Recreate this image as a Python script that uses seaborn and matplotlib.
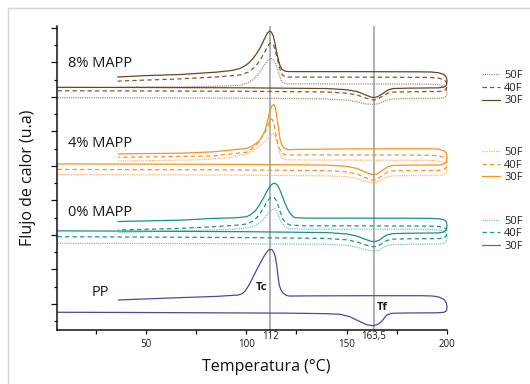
import matplotlib
matplotlib.use("Agg")
import seaborn as sns
from matplotlib import pyplot as plt
from matplotlib.patches import Rectangle
from matplotlib.ticker import FixedLocator, MultipleLocator, NullFormatter

# DSC loops: (temperature, heat flow)
# heating branch left->200, turn at 200, cooling branch 200->36
pp_pts = [(5.9, 0.76), (40, 0.755), (80, 0.745), (120, 0.735), (140, 0.72), (147, 0.70), (151.6, 0.63),
          (156.6, 0.49), (160, 0.40), (163.2, 0.37), (165.5, 0.41), (167.4, 0.49), (169.9, 0.68), (172.4, 0.73),
          (180, 0.74), (195, 0.745), (198.5, 0.76), (199.7, 0.80), (200, 0.92), (199.7, 1.03), (198.5, 1.13),
          (196, 1.20), (193, 1.23), (188, 1.24), (160, 1.24), (130, 1.235), (122, 1.23), (120.9, 1.235),
          (119.5, 1.265), (118.4, 1.31), (117.3, 1.40), (116.4, 1.55), (115.8, 1.80), (115.2, 2.10),
          (114.5, 2.36), (113.7, 2.50), (112.8, 2.57), (111.8, 2.585), (110.8, 2.55), (109.3, 2.43), (108, 2.30),
          (106.8, 2.17), (105, 1.97), (103.4, 1.79), (101.8, 1.60), (100.5, 1.47), (99.3, 1.37), (98, 1.30),
          (96, 1.26), (85, 1.22), (60, 1.17), (36.2, 1.116)]

m0_30 = [(5.9, 3.12), (50, 3.11), (100, 3.095), (140, 3.07), (150, 3.03), (155, 2.97), (159, 2.88), (162, 2.82),
         (164, 2.81), (166, 2.84), (168, 2.93), (170, 3.0), (173, 3.04), (180, 3.05), (196, 3.06), (198.5, 3.09),
         (199.7, 3.15), (200, 3.27), (199.7, 3.38), (198.5, 3.44), (196, 3.47), (192, 3.48), (185, 3.485),
         (150, 3.49), (130, 3.49), (124.2, 3.50), (123, 3.55), (121.7, 3.64), (120.4, 3.77), (119.2, 3.93),
         (118, 4.12), (116.7, 4.31), (115.5, 4.44), (114.3, 4.50), (113, 4.48), (111.8, 4.41), (110.2, 4.26),
         (108.4, 4.06), (106.3, 3.85), (104.3, 3.69), (102.2, 3.59), (100.1, 3.53), (95, 3.50), (83.5, 3.48),
         (66.9, 3.43), (36, 3.39)]
m0_40 = [(5.9, 2.95), (50, 2.94), (100, 2.925), (140, 2.90), (150, 2.86), (155, 2.80), (159, 2.72), (162, 2.67),
         (163.8, 2.66), (166, 2.69), (168, 2.77), (170, 2.84), (173, 2.88), (180, 2.89), (196, 2.895),
         (198.5, 2.92), (199.7, 2.98), (200, 3.08), (199.7, 3.17), (198.5, 3.22), (196, 3.245), (192, 3.255),
         (185, 3.26), (150, 3.265), (130, 3.265), (121.7, 3.29), (120, 3.34), (118.4, 3.44), (117.2, 3.62),
         (115.9, 3.84), (114.8, 4.01), (113.7, 4.10), (112.4, 4.09), (110.9, 4.01), (109.3, 3.86), (107.6, 3.69),
         (105.5, 3.52), (103.4, 3.40), (100, 3.32), (96.8, 3.29), (83.5, 3.24), (66.9, 3.19), (36, 3.145)]
m0_50 = [(5.9, 2.76), (50, 2.755), (100, 2.745), (140, 2.73), (150, 2.70), (155, 2.65), (159, 2.58), (162, 2.545),
         (163.8, 2.54), (166, 2.56), (168, 2.63), (170, 2.69), (173, 2.72), (180, 2.73), (196, 2.735),
         (198.5, 2.76), (199.7, 2.82), (200, 2.93), (199.7, 3.04), (198.5, 3.11), (196, 3.145), (192, 3.16),
         (185, 3.165), (150, 3.17), (130, 3.17), (121, 3.18), (119.2, 3.245), (118, 3.33), (116.7, 3.45),
         (115.5, 3.65), (114.3, 3.76), (113, 3.74), (111.8, 3.68), (110, 3.56), (108.4, 3.44), (106, 3.32),
         (103.4, 3.245), (98, 3.19), (91.8, 3.16), (60, 3.11), (36, 3.07)]

m4_30 = [(5.9, 5.06), (50, 5.055), (100, 5.045), (140, 5.025), (150, 4.99), (155, 4.93), (159, 4.83), (162, 4.76),
         (163.5, 4.745), (165.5, 4.78), (168, 4.88), (170.5, 4.98), (173, 5.015), (180, 5.025), (196, 5.03),
         (198.5, 5.06), (199.7, 5.12), (200, 5.25), (199.7, 5.37), (198.5, 5.44), (196, 5.485), (192, 5.50),
         (185, 5.50), (150, 5.495), (125, 5.48), (121, 5.47), (119.2, 5.51), (118, 5.58), (117.3, 5.67),
         (116.7, 5.82), (116, 6.10), (115.1, 6.48), (114.4, 6.70), (113.7, 6.78), (113, 6.76), (112.4, 6.70),
         (111.4, 6.52), (110.3, 6.24), (109.3, 6.02), (107.8, 5.84), (105.9, 5.70), (103, 5.58), (100.1, 5.51),
         (83.5, 5.41), (66.9, 5.37), (36, 5.35)]
m4_40 = [(5.9, 4.90), (50, 4.895), (100, 4.885), (140, 4.865), (150, 4.83), (155, 4.77), (159, 4.67), (162, 4.605),
         (163.5, 4.595), (165.5, 4.63), (168, 4.73), (170.5, 4.83), (173, 4.86), (180, 4.865), (196, 4.87),
         (198.5, 4.90), (199.7, 4.96), (200, 5.07), (199.7, 5.18), (198.5, 5.25), (196, 5.29), (192, 5.31),
         (185, 5.315), (150, 5.32), (125, 5.32), (120, 5.32), (118.4, 5.345), (117.3, 5.42), (116.5, 5.52),
         (115.7, 5.66), (115.1, 5.80), (114.4, 6.02), (113.7, 6.24), (113, 6.34), (112.3, 6.36), (111.5, 6.30),
         (110.6, 6.14), (109.6, 6.00), (108.6, 5.92), (107.5, 5.82), (106.3, 5.71), (104, 5.55), (100.1, 5.40),
         (83.5, 5.29), (60, 5.27), (36, 5.25)]
m4_50 = [(5.9, 4.75), (50, 4.745), (100, 4.735), (140, 4.715), (150, 4.69), (155, 4.64), (159, 4.56), (162, 4.525),
         (163.5, 4.52), (165.5, 4.54), (168, 4.62), (170.5, 4.69), (173, 4.715), (180, 4.72), (196, 4.725),
         (198.5, 4.75), (199.7, 4.80), (200, 4.91), (199.7, 5.02), (198.5, 5.10), (196, 5.14), (192, 5.16),
         (185, 5.165), (150, 5.17), (125, 5.175), (120, 5.18), (118.5, 5.20), (117.5, 5.25), (116.7, 5.36),
         (115.9, 5.52), (115.2, 5.70), (114.5, 5.86), (113.7, 5.94), (112.8, 5.93), (111.8, 5.86), (110.5, 5.78),
         (108.7, 5.68), (106.8, 5.58), (103, 5.44), (100.1, 5.36), (91.8, 5.24), (76.9, 5.18), (36, 5.14)]

m8_30 = [(5.9, 7.28), (50, 7.275), (100, 7.265), (140, 7.245), (150, 7.21), (155, 7.16), (159, 7.07), (162, 7.0),
         (163.5, 6.98), (165.5, 7.01), (168, 7.10), (170.5, 7.20), (173, 7.245), (180, 7.255), (196, 7.265),
         (198.5, 7.29), (199.7, 7.34), (200, 7.45), (199.7, 7.57), (198.5, 7.65), (196, 7.70), (192, 7.725),
         (185, 7.73), (150, 7.735), (125, 7.735), (121, 7.737), (119.2, 7.75), (117.8, 7.80), (116.7, 7.92),
         (115.9, 8.10), (115.1, 8.30), (114.3, 8.55), (113.5, 8.76), (112.5, 8.88), (111.6, 8.91), (110.6, 8.86),
         (109.6, 8.75), (108.5, 8.62), (107.2, 8.46), (105.5, 8.29), (103.4, 8.12), (101.5, 8.00), (99.5, 7.91),
         (97, 7.83), (93, 7.77), (85, 7.72), (66.9, 7.65), (50, 7.62), (35.9, 7.58)]
m8_40 = [(5.9, 7.18), (50, 7.175), (100, 7.165), (140, 7.145), (150, 7.11), (155, 7.06), (159, 6.98), (162, 6.925),
         (163.5, 6.91), (165.5, 6.94), (168, 7.03), (170.5, 7.11), (173, 7.14), (180, 7.15), (196, 7.16),
         (198.5, 7.18), (199.7, 7.23), (200, 7.33), (199.7, 7.43), (198.5, 7.50), (196, 7.545), (192, 7.565),
         (185, 7.57), (150, 7.575), (125, 7.575), (119.5, 7.58), (118.3, 7.62), (117.3, 7.71), (116.3, 7.90),
         (115.4, 8.12), (114.5, 8.33), (113.6, 8.50), (112.7, 8.57), (111.9, 8.56), (111, 8.50), (109.5, 8.34),
         (107, 8.08), (104.5, 7.88), (101, 7.72), (97, 7.64), (85, 7.58), (65, 7.52), (50, 7.49), (35.9, 7.46)]
m8_50 = [(5.9, 6.98), (50, 6.975), (100, 6.965), (140, 6.945), (150, 6.91), (155, 6.86), (159, 6.80), (162, 6.79),
         (163.5, 6.785), (165.5, 6.80), (168, 6.86), (170.5, 6.92), (173, 6.945), (180, 6.955), (196, 6.96),
         (198.5, 6.98), (199.7, 7.03), (200, 7.12), (199.7, 7.22), (198.5, 7.30), (196, 7.35), (192, 7.37),
         (185, 7.375), (150, 7.38), (125, 7.38), (120, 7.38), (118.6, 7.40), (117.5, 7.47), (116.5, 7.62),
         (115.6, 7.80), (114.6, 7.96), (113.5, 8.07), (112.5, 8.115), (111.6, 8.10), (110.5, 8.04), (109, 7.92),
         (106.5, 7.70), (104, 7.53), (100.5, 7.40), (97, 7.34), (85, 7.31), (65, 7.29), (50, 7.285), (36, 7.28)]

groups = ["8% MAPP", "4% MAPP", "0% MAPP"]
group_curves = [[m8_50, m8_40, m8_30], [m4_50, m4_40, m4_30], [m0_50, m0_40, m0_30]]
group_colors = [["#a98f76", "#7b5a3a", "#6b4423"],
                ["#fbb56e", "#f7922a", "#f7931e"],
                ["#7dc4bf", "#23928c", "#18918b"]]
series_labels = ["50F", "40F", "30F"]
series_styles = [(0, (1, 0.8)), (0, (3.5, 2.5)), "-"]
group_label_y = [7.96, 5.64, 3.65]
legend_y = [0.770, 0.570, 0.391]
pp_color = "#4b48a6"
tc, tf = 112, 163.5

sns.set_style("ticks")
plt.rcParams["font.family"] = ["Open Sans", "DejaVu Sans"]

fig = plt.figure(figsize=(5.3, 3.84), dpi=100)
ax = fig.add_axes([0.1081, 0.1406, 0.7353, 0.7904])

ax.axvline(tc, color="#a3a3a3", lw=1.2, zorder=1)
ax.axvline(tf, color="#a3a3a3", lw=1.2, zorder=1)

sns.lineplot(x=[p[0] for p in pp_pts], y=[p[1] for p in pp_pts], sort=False, estimator=None,
             color=pp_color, lw=0.9, clip_on=False, ax=ax)

legends = []
for g, curves in enumerate(group_curves):
    handles = []
    for s, pts in enumerate(curves):
        sns.lineplot(x=[p[0] for p in pts], y=[p[1] for p in pts], sort=False, estimator=None,
                     color=group_colors[g][s], linestyle=series_styles[s], lw=0.9,
                     clip_on=False, ax=ax)
        handles.append(ax.lines[-1])
    leg = ax.legend(handles, series_labels, loc="center left", bbox_to_anchor=(0.9094, legend_y[g]),
                    bbox_transform=fig.transFigure, frameon=False, fontsize=8,
                    handlelength=1.6, handletextpad=0.4, labelspacing=0.15,
                    borderpad=0, borderaxespad=0)
    for t in leg.get_texts():
        t.set_color("#222222")
    legends.append(leg)
    ax.text(11.3, group_label_y[g], groups[g], fontsize=10.5, ha="left", va="center", color="#1a1a1a")
for leg in legends[:-1]:
    ax.add_artist(leg)

ax.text(22.9, 1.33, "PP", fontsize=10.5, ha="left", va="center", color="#1a1a1a")
ax.text(107.4, 1.47, "Tc", fontsize=8, fontweight="bold", ha="center", va="center", color="#1a1a1a")
ax.text(167.8, 0.89, "Tf", fontsize=8, fontweight="bold", ha="center", va="center", color="#1a1a1a")

ax.set_xlim(5.8, 200)
ax.set_ylim(0.246, 9.043)
ax.xaxis.set_major_locator(FixedLocator([50, 100, 150, 200]))
ax.xaxis.set_minor_locator(FixedLocator([25, 75, 125, 175]))
ax.yaxis.set_major_locator(MultipleLocator(1))
ax.yaxis.set_minor_locator(FixedLocator([0.5 + i for i in range(9)]))
ax.yaxis.set_major_formatter(NullFormatter())
ax.tick_params(axis="x", which="both", direction="out", length=3, width=0.9, labelsize=7, pad=3.5,
               color="#111111", labelcolor="#1a1a1a")
ax.tick_params(axis="y", which="major", direction="out", length=4.5, width=0.9, color="#111111")
ax.tick_params(axis="y", which="minor", direction="out", length=2.5, width=0.9, color="#111111")

for x, lab in [(tc, "112"), (tf, "163,5")]:
    ax.text(x, -0.022, lab, transform=ax.get_xaxis_transform(), fontsize=7, ha="center", va="center",
            color="#1a1a1a")

sns.despine(ax=ax)
for sp in ["left", "bottom"]:
    ax.spines[sp].set_linewidth(1.1)
    ax.spines[sp].set_color("#111111")

ax.set_xlabel("Temperatura (°C)", fontsize=11.5, color="#111111")
ax.set_ylabel("Flujo de calor (u.a)", fontsize=11.5, color="#111111")
ax.xaxis.label.set_va("center")
ax.yaxis.label.set_va("center")
ax.xaxis.set_label_coords(0.535, -0.1215)
ax.yaxis.set_label_coords(-0.075, 0.502)

fig.patches.append(Rectangle((8 / 530, -0.1), 1.2, 1 - 8 / 384 + 0.1, transform=fig.transFigure,
                             fill=False, edgecolor="#d4d4d4", lw=1))

fig.savefig("out.png", dpi=100)
